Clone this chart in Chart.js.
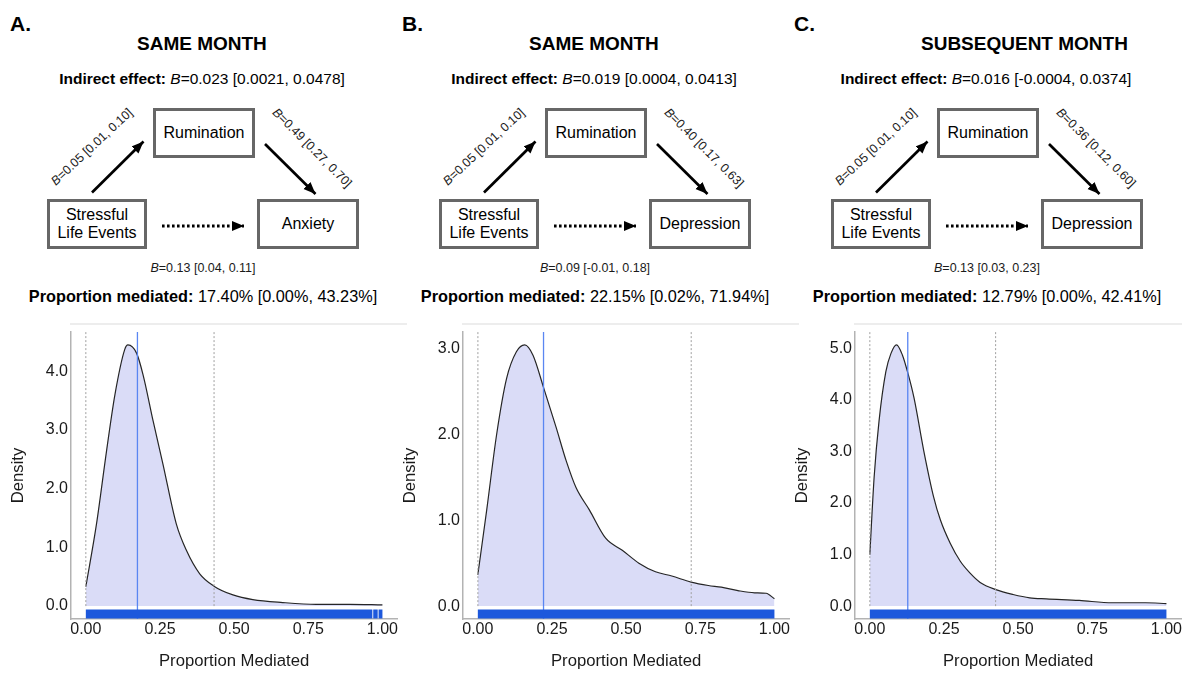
<!DOCTYPE html>
<html>
<head>
<meta charset="utf-8">
<script src="https://cdn.jsdelivr.net/npm/chart.js@4.4.1/dist/chart.umd.min.js"></script>
<style>
  html, body { margin: 0; padding: 0; background: #fff; }
  body { width: 1182px; height: 673px; overflow: hidden; position: relative;
         font-family: 'Liberation Sans', Arial, Helvetica, sans-serif; color: #000; }
  .t { position: absolute; white-space: nowrap; line-height: 1; }
  .c { transform: translate(-50%, -50%); text-align: center; }
  .l { transform: translate(0, -50%); }
  .letter { font-size: 21px; font-weight: bold; }
  .title { font-size: 19px; font-weight: bold; }
  .stat { font-size: 15.5px; }
  .stat.pm { font-size: 16.3px; }
  .coef { font-size: 12.5px; color: #1a1a1a; }
  .box { position: absolute; box-sizing: border-box; border: 3px solid #676767; background: #fff;
         display: flex; align-items: center; justify-content: center; text-align: center;
         font-size: 16px; line-height: 1.15; }
  .sep { position: absolute; height: 2px; background: #ededed; }
  canvas { position: absolute; }
  svg { position: absolute; overflow: visible; }
</style>
</head>
<body>
<script>
// ==================== DATOS ====================
const panelLetters  = ['A.', 'B.', 'C.'];
const panelTitles   = ['SAME MONTH', 'SAME MONTH', 'SUBSEQUENT MONTH'];
const mediatorName  = 'Rumination';
const predictorName = ['Stressful', 'Life Events'];
const outcomeNames  = ['Anxiety', 'Depression', 'Depression'];

const indirectEffects = ['0.023 [0.0021, 0.0478]', '0.019 [0.0004, 0.0413]', '0.016 [-0.0004, 0.0374]'];
const pathA = ['0.05 [0.01, 0.10]', '0.05 [0.01, 0.10]', '0.05 [0.01, 0.10]'];
const pathB = ['0.49 [0.27, 0.70]', '0.40 [0.17, 0.63]', '0.36 [0.12, 0.60]'];
const pathC = ['0.13 [0.04, 0.11]', '0.09 [-0.01, 0.18]', '0.13 [0.03, 0.23]'];
const propMediated = ['17.40% [0.00%, 43.23%]', '22.15% [0.02%, 71.94%]', '12.79% [0.00%, 42.41%]'];

// densidad de la proporción mediada
const densityXA = [0, 0.036, 0.07, 0.098, 0.131, 0.142, 0.171, 0.193, 0.227, 0.26, 0.305, 0.339, 0.384, 0.432, 0.496, 0.563, 0.664, 0.777, 0.889, 1.0];
const densityYA = [0.33, 1.40, 2.65, 3.60, 4.37, 4.45, 4.31, 3.94, 3.15, 2.42, 1.40, 0.95, 0.55, 0.34, 0.19, 0.11, 0.06, 0.03, 0.03, 0.02];

const densityXB = [0, 0.030, 0.0635, 0.097, 0.130, 0.158, 0.186, 0.222, 0.264, 0.298, 0.331, 0.376, 0.431, 0.487, 0.543, 0.599, 0.654, 0.719, 0.777, 0.821, 0.877, 0.933, 0.972, 1.0];
const densityYB = [0.365, 1.12, 2.00, 2.65, 2.96, 3.04, 2.92, 2.54, 2.08, 1.69, 1.38, 1.12, 0.79, 0.65, 0.50, 0.40, 0.35, 0.28, 0.24, 0.22, 0.18, 0.155, 0.15, 0.085];

const densityXC = [0, 0.0145, 0.031, 0.054, 0.071, 0.090, 0.11, 0.127, 0.149, 0.182, 0.215, 0.238, 0.271, 0.305, 0.338, 0.372, 0.425, 0.483, 0.539, 0.595, 0.706, 0.818, 0.93, 1.0];
const densityYC = [1.00, 2.50, 3.59, 4.55, 4.90, 5.07, 4.87, 4.55, 4.04, 3.01, 2.12, 1.67, 1.22, 0.87, 0.64, 0.46, 0.32, 0.225, 0.16, 0.14, 0.11, 0.065, 0.065, 0.05];

const medianProp = [0.1740, 0.2215, 0.1279];
const ciLower    = [0.0000, 0.0002, 0.0000];
const ciUpper    = [0.4323, 0.7194, 0.4241];

// tramos del rug (valores simulados, recortados a [0, 1])
const rugA = [[0, 0.966], [0.969, 0.984], [0.987, 1.0]];
const rugB = [[0, 1.0]];
const rugC = [[0, 1.0]];

const xTicks  = [0, 0.25, 0.5, 0.75, 1];
const yTicksA = [0, 1, 2, 3, 4];
const yTicksB = [0, 1, 2, 3];
const yTicksC = [0, 1, 2, 3, 4, 5];

// ==================== CONFIG ====================
const PANEL_W = 392;
const xLimits = [-0.05, 1.05];
const yLimits = [[-0.22, 4.67], [-0.15, 3.19], [-0.25, 5.32]];

const COLOR_FILL   = '#dadcf7';
const COLOR_CURVE  = '#262626';
const COLOR_MEDIAN = '#5a86f2';
const COLOR_CI     = '#a0a0a0';
const COLOR_RUG    = '#1d58dc';
const COLOR_AXIS   = '#b3b3b3';

Chart.defaults.font.family = "'Liberation Sans', Arial, Helvetica, sans-serif";
Chart.defaults.color = '#1a1a1a';

// ==================== DIAGRAMA ====================
function addText(html, cls, x, y) {
  const el = document.createElement('div');
  el.className = 't ' + cls;
  el.innerHTML = html;
  el.style.left = x + 'px';
  el.style.top  = y + 'px';
  document.body.appendChild(el);
  return el;
}

function addBox(html, x, y, w, h) {
  const el = document.createElement('div');
  el.className = 'box';
  el.innerHTML = html;
  Object.assign(el.style, { left: x + 'px', top: y + 'px', width: w + 'px', height: h + 'px' });
  document.body.appendChild(el);
}

function addArrows(ox, i) {
  const ns = 'http://www.w3.org/2000/svg';
  const svg = document.createElementNS(ns, 'svg');
  svg.setAttribute('width', PANEL_W);
  svg.setAttribute('height', 320);
  svg.style.left = ox + 'px';
  svg.style.top = '0px';
  svg.innerHTML = `
    <defs>
      <marker id="ah${i}" markerUnits="userSpaceOnUse" markerWidth="13" markerHeight="11"
              refX="12" refY="5.5" orient="auto">
        <path d="M0,0.5 L12,5.5 L0,10.5 z" fill="#000"/>
      </marker>
    </defs>
    <line x1="92" y1="192.5" x2="143.5" y2="141.5" stroke="#000" stroke-width="2.7" marker-end="url(#ah${i})"/>
    <line x1="265" y1="144" x2="315.5" y2="194" stroke="#000" stroke-width="2.7" marker-end="url(#ah${i})"/>
    <line x1="162" y1="226" x2="244" y2="226" stroke="#000" stroke-width="3"
          stroke-dasharray="2.6,2.4" marker-end="url(#ah${i})"/>`;
  document.body.appendChild(svg);
}

function renderDiagram(i) {
  const ox = i * PANEL_W;
  addText(panelLetters[i], 'l letter', ox + 10, 22.5);
  addText(panelTitles[i], 'l title', ox + 137, 43);
  addText(`<b>Indirect effect:</b> <i>B</i>=${indirectEffects[i]}`, 'c stat', ox + 202, 78.5);

  addBox(mediatorName, ox + 153, 108, 102, 50);
  addBox(predictorName.join('<br>'), ox + 47, 199, 100, 50);
  addBox(outcomeNames[i], ox + 257, 199, 102, 50);
  addArrows(ox, i);

  const la = addText(`<i>B</i>=${pathA[i]}`, 'coef', ox + 92, 147);
  la.style.transform = 'translate(-50%, -50%) rotate(-43deg)';
  const lb = addText(`<i>B</i>=${pathB[i]}`, 'coef', ox + 312, 147.5);
  lb.style.transform = 'translate(-50%, -50%) rotate(45deg)';
  addText(`<i>B</i>=${pathC[i]}`, 'c coef', ox + 203, 268);
  addText(`<b>Proportion mediated:</b> ${propMediated[i]}`, 'c stat pm', ox + 203, 295.5);

  const sep = document.createElement('div');
  sep.className = 'sep';
  Object.assign(sep.style, { left: (ox + 70) + 'px', top: '323px', width: '337px' });
  if (i === 2) sep.style.width = '328px';
  document.body.appendChild(sep);
}

// ==================== GRÁFICO DENSIDAD ====================
const rugPlugin = {
  id: 'rug',
  afterDatasetsDraw(chart, args, opts) {
    const { ctx, chartArea, scales: { x } } = chart;
    ctx.save();
    ctx.fillStyle = opts.color;
    (opts.segments || []).forEach(([a, b]) => {
      const x0 = x.getPixelForValue(a);
      const x1 = x.getPixelForValue(b);
      ctx.fillRect(x0, chartArea.bottom - 9.5, x1 - x0, 9);
    });
    ctx.restore();
  }
};

function vLine(xv, y0, y1, color, dash) {
  return {
    data: [{ x: xv, y: y0 }, { x: xv, y: y1 }],
    borderColor: color,
    borderWidth: dash ? 1 : 1.3,
    borderDash: dash || [],
    pointRadius: 0,
    fill: false,
    order: 1
  };
}

function renderChart(i, xs, ys, yTicks, rug) {
  const ox = i * PANEL_W;
  const canvas = document.createElement('canvas');
  canvas.width = 399;
  canvas.height = 357;
  canvas.style.left = ox + 'px';
  canvas.style.top = '316px';
  canvas.style.width = '399px';
  canvas.style.height = '357px';
  document.body.appendChild(canvas);

  const [yMin, yMax] = yLimits[i];
  const density = xs.map((x, k) => ({ x, y: ys[k] }));

  new Chart(canvas, {
    type: 'line',
    data: {
      datasets: [
        vLine(ciLower[i], 0, yMax, COLOR_CI, [2, 2]),
        vLine(ciUpper[i], 0, yMax, COLOR_CI, [2, 2]),
        vLine(medianProp[i], yMin, yMax, COLOR_MEDIAN, null),
        {
          data: density,
          borderColor: COLOR_CURVE,
          borderWidth: 1.2,
          backgroundColor: COLOR_FILL,
          fill: 'origin',
          pointRadius: 0,
          cubicInterpolationMode: 'monotone',
          order: 3
        }
      ]
    },
    options: {
      responsive: false,
      animation: false,
      devicePixelRatio: 1,
      layout: { padding: { top: 16, left: 0, right: 0, bottom: 0 } },
      plugins: {
        legend: { display: false },
        tooltip: { enabled: false },
        rug: { segments: rug, color: COLOR_RUG }
      },
      scales: {
        x: {
          type: 'linear',
          min: xLimits[0],
          max: xLimits[1],
          afterBuildTicks: s => { s.ticks = xTicks.map(v => ({ value: v })); },
          afterFit: s => { s.height = 54; },
          grid: { display: false, drawTicks: false },
          border: { display: true, color: COLOR_AXIS, width: 1.5 },
          ticks: { font: { size: 16 }, color: '#1a1a1a', padding: 1, maxRotation: 0,
                   callback: v => v.toFixed(2) },
          title: { display: true, text: 'Proportion Mediated', font: { size: 16.7 }, color: '#1a1a1a',
                   padding: { top: 0, bottom: 2 } }
        },
        y: {
          type: 'linear',
          min: yMin,
          max: yMax,
          afterBuildTicks: s => { s.ticks = yTicks.map(v => ({ value: v })); },
          afterFit: s => { s.width = 71; },
          grid: { display: false, drawTicks: false },
          border: { display: true, color: COLOR_AXIS, width: 1.5 },
          ticks: { font: { size: 16 }, color: '#1a1a1a', padding: 3,
                   callback: v => v.toFixed(1) },
          title: { display: true, text: 'Density', font: { size: 16.7 }, color: '#1a1a1a',
                   padding: { top: 8, bottom: 0 } }
        }
      }
    },
    plugins: [rugPlugin]
  });
}

[0, 1, 2].forEach(renderDiagram);
renderChart(0, densityXA, densityYA, yTicksA, rugA);
renderChart(1, densityXB, densityYB, yTicksB, rugB);
renderChart(2, densityXC, densityYC, yTicksC, rugC);
</script>
</body>
</html>
